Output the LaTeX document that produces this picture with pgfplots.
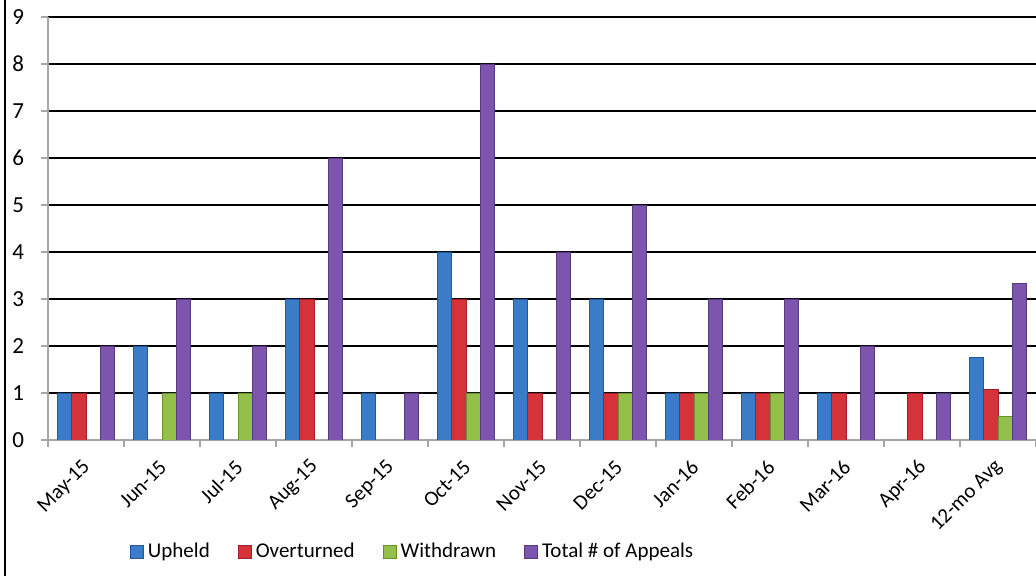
\documentclass[border=0pt]{standalone}
\usepackage{fontspec}
\setmainfont{Carlito}
\usepackage{pgfplots}
\pgfplotsset{compat=1.18}
\usetikzlibrary{calc}

\definecolor{upD}{HTML}{1F5A9E}
\definecolor{upM}{HTML}{3A7CC8}
\definecolor{ovD}{HTML}{9E1F26}
\definecolor{ovM}{HTML}{D5323A}
\definecolor{wdD}{HTML}{6A922C}
\definecolor{wdM}{HTML}{92C04A}
\definecolor{toD}{HTML}{553A80}
\definecolor{toM}{HTML}{7D55AE}
\definecolor{axgray}{HTML}{A6A6A6}

\pgfplotsset{
  barstyle/.style 2 args={draw=#1, line width=0.4pt, fill=#2,
    legend image code/.code={\filldraw[draw=#1, fill=#2, line width=0.4pt] (0pt,-3.3pt) rectangle (6.6pt,3.3pt);}},
}

\begin{document}
\begin{tikzpicture}
\begin{axis}[
    scale only axis,
    width=494pt, height=211.5pt,
    ybar=0pt, bar width=0.19,
    xmin=-0.5, xmax=12.5,
    ymin=0, ymax=9,
    axis x line*=bottom, axis y line*=left,
    axis line style={axgray, line width=0.8pt},
    xtick={0,...,12},
    xticklabels={May-15,Jun-15,Jul-15,Aug-15,Sep-15,Oct-15,Nov-15,Dec-15,Jan-16,Feb-16,Mar-16,Apr-16,12-mo Avg},
    minor xtick={-0.5,0.5,...,12.5},
    major x tick style={draw=none},
    minor x tick style={axgray, line width=0.8pt},
    minor tick length=3.5pt,
    ytick={0,...,9},
    major y tick style={axgray, line width=0.8pt},
    major tick length=3.5pt,
    tick align=outside,
    ymajorgrids,
    grid style={black, line width=0.9pt},
    /pgf/number format/assume math mode=true,
    xticklabel style={font=\fontsize{10.5}{12}\selectfont},
    yticklabel style={font=\fontsize{11.5}{13}\selectfont, xshift=-5pt},
    xticklabel style={xshift=3pt, yshift=-6pt, rotate=45, anchor=east},
    legend columns=4,
    legend style={draw=none, at={(0.37,-0.265)}, anchor=center, font=\fontsize{10.5}{12}\selectfont,
      /tikz/every even column/.append style={column sep=12pt}},
]
\coordinate (ll) at (rel axis cs:0,0);
\coordinate (ur) at (rel axis cs:1,1);
\addplot[barstyle={upD}{upM}] coordinates {
  (0,1) (1,2) (2,1) (3,3) (4,1) (5,4) (6,3) (7,3) (8,1) (9,1) (10,1) (12,1.75)};
\addplot[barstyle={ovD}{ovM}] coordinates {
  (0,1) (3,3) (5,3) (6,1) (7,1) (8,1) (9,1) (10,1) (11,1) (12,1.083)};
\addplot[barstyle={wdD}{wdM}] coordinates {
  (1,1) (2,1) (5,1) (7,1) (8,1) (9,1) (12,0.5)};
\addplot[barstyle={toD}{toM}] coordinates {
  (0,2) (1,3) (2,2) (3,6) (4,1) (5,8) (6,4) (7,5) (8,3) (9,3) (10,2) (11,1) (12,3.333)};
\legend{Upheld, Overturned, Withdrawn, Total \# of Appeals}
\end{axis}
\pgfresetboundingbox
\path[use as bounding box] ($(ll)+(-24pt,-68pt)$) rectangle ($(ur)+(0pt,8.5pt)$);
\draw[line width=1pt] ($(ll)+(-21.5pt,-70pt)$) -- ($(ll)+(-21.5pt,222pt)$);
\end{tikzpicture}
\end{document}
